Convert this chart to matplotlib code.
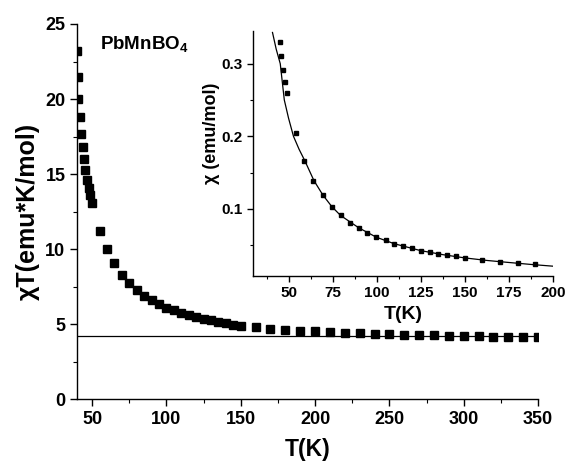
import matplotlib
matplotlib.use("Agg")
import matplotlib.pyplot as plt
from matplotlib.ticker import MultipleLocator

# main panel: chi*T vs T
temp_main = [40, 40.3, 40.6, 41.8, 42.4, 43.6, 44.5, 45.4, 46.3, 47.6, 48.6, 49.6,
             55, 60, 65, 70, 75, 80, 85, 90, 95, 100, 105, 110, 115, 120, 125,
             130, 135, 140, 145, 150, 160, 170, 180, 190, 200, 210, 220, 230,
             240, 250, 260, 270, 280, 290, 300, 310, 320, 330, 340, 350]
chit_main = [23.2, 21.5, 20.0, 18.8, 17.7, 16.8, 16.0, 15.3, 14.6, 14.1, 13.6, 13.1,
             11.2, 10.0, 9.05, 8.3, 7.75, 7.27, 6.87, 6.6, 6.35, 6.1, 5.93, 5.78,
             5.63, 5.5, 5.38, 5.27, 5.17, 5.07, 4.98, 4.9, 4.8, 4.7, 4.62, 4.57,
             4.53, 4.48, 4.44, 4.4, 4.36, 4.33, 4.3, 4.28, 4.25, 4.23, 4.21, 4.19,
             4.17, 4.15, 4.14, 4.13]
curie_level = 4.22
curie_range = [40, 350]

# inset: chi vs T with fit curve
temp_inset = [44.9, 45.8, 47.0, 47.9, 49.0, 54, 59, 64, 69.5, 74.6, 79.5, 84.7,
              89.8, 94.7, 99.8, 105, 110, 115, 120, 125, 130, 135, 140, 145, 150,
              160, 170, 180, 190]
chi_inset = [0.330, 0.310, 0.291, 0.275, 0.260, 0.204, 0.166, 0.139, 0.119, 0.103,
             0.091, 0.081, 0.074, 0.067, 0.061, 0.0566, 0.052, 0.049, 0.0456,
             0.0425, 0.0402, 0.038, 0.0361, 0.0347, 0.0325, 0.0292, 0.027,
             0.0256, 0.0237]
temp_fit = [40.9, 43.0, 45.3, 47.6, 50.0, 52.8, 56, 59.3, 64.4, 69.5, 74.6, 79.5,
            89.8, 99.8, 110, 125, 137.5, 150, 162.5, 175, 187.5, 200]
chi_fit = [0.343, 0.320, 0.300, 0.250, 0.225, 0.200, 0.182, 0.166, 0.139, 0.119,
           0.103, 0.091, 0.074, 0.061, 0.052, 0.0425, 0.037, 0.0325, 0.029,
           0.0262, 0.0235, 0.0211]

plt.rcParams.update({
    "font.family": ["Liberation Sans", "DejaVu Sans"],
    "font.weight": "bold",
    "mathtext.fontset": "custom",
    "mathtext.rm": "Liberation Sans:bold",
    "mathtext.bf": "Liberation Sans:bold",
    "axes.linewidth": 1.0,
})


def style_axes(ax, size_major, size_minor, labelsize):
    for side in ("top", "right"):
        ax.spines[side].set_visible(False)
    ax.tick_params(which="major", direction="out", length=size_major, width=1.0,
                   labelsize=labelsize)
    ax.tick_params(which="minor", direction="out", length=size_minor, width=0.8)
    for lab in ax.get_xticklabels() + ax.get_yticklabels():
        lab.set_fontweight("bold")


fig = plt.figure(figsize=(5.67, 4.65), dpi=100)

ax = fig.add_axes([0.1363, 0.1413, 0.8126, 0.8071])
ax.plot(curie_range, [curie_level, curie_level], color="black", linewidth=0.9)
ax.plot(temp_main, chit_main, linestyle="none", marker="s", markersize=5.2,
        color="black")
ax.set_xlim(40, 350)
ax.set_ylim(0, 25)
ax.xaxis.set_major_locator(MultipleLocator(50))
ax.xaxis.set_minor_locator(MultipleLocator(25))
ax.yaxis.set_major_locator(MultipleLocator(5))
ax.yaxis.set_minor_locator(MultipleLocator(2.5))
style_axes(ax, 5, 3, 13)
ax.set_xlabel("T(K)", fontsize=16.5, fontweight="bold", labelpad=7)
ax.set_ylabel("χT(emu*K/mol)", fontsize=18, fontweight="bold", labelpad=4)
ax.text(0.049, 0.945, r"PbMnBO$_{4}$", transform=ax.transAxes, fontsize=13.5,
        fontweight="bold", va="center", ha="left")

ins = fig.add_axes([0.4467, 0.4071, 0.5286, 0.5262])
ins.plot(temp_fit, chi_fit, color="black", linewidth=0.9)
ins.plot(temp_inset, chi_inset, linestyle="none", marker="s", markersize=3.2,
         color="black")
ins.set_xlim(30, 200)
ins.set_ylim(0.008, 0.345)
ins.set_xticks([50, 75, 100, 125, 150, 175, 200])
ins.xaxis.set_minor_locator(MultipleLocator(12.5))
ins.set_yticks([0.1, 0.2, 0.3])
ins.yaxis.set_minor_locator(MultipleLocator(0.05))
style_axes(ins, 4, 2.5, 11)
ins.set_xlabel("T(K)", fontsize=14, fontweight="bold", labelpad=4)
ins.set_ylabel("χ (emu/mol)", fontsize=13, fontweight="bold", labelpad=6)
ins.yaxis.set_label_coords(-0.11, 0.58)

fig.savefig("out.png", dpi=100)
